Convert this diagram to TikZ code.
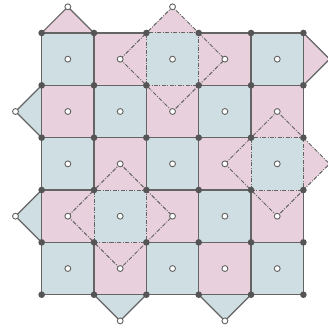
\documentclass[tikz,border=0pt]{standalone}
\usepackage{tikz}
\usetikzlibrary{calc}

\definecolor{tileblue}{RGB}{207,222,226}
\definecolor{tilepink}{RGB}{232,208,220}
\definecolor{edgegray}{RGB}{100,100,100}
\definecolor{dotgray}{RGB}{85,85,85}

\begin{document}
\begin{tikzpicture}[
  gridline/.style={draw=edgegray, line width=0.65pt},
  foldline/.style={draw=edgegray, line width=0.55pt,
    dash pattern=on 2.2pt off 0.8pt on 0.5pt off 0.8pt},
  vertex/.style={circle, fill=dotgray, inner sep=0pt, minimum size=3.6pt},
  centre/.style={circle, draw=edgegray, fill=white, line width=0.5pt,
    inner sep=0pt, minimum size=3.2pt}
]
\useasboundingbox (-0.796,-0.655) rectangle (5.464,5.63);

% --- Dashed tile helper: lower-left corner (x,y) of the centre cell ---
\newcommand{\FoldTile}[2]{%
  % square around the centre cell
  \draw[foldline] (#1,#2) rectangle ++(1,1);
  % diamond through the four neighbouring centres
  \draw[foldline] (#1-0.5,#2+0.5) -- (#1+0.5,#2+1.5)
    -- (#1+1.5,#2+0.5) -- (#1+0.5,#2-0.5) -- cycle;
}

% --- Checkerboard cells ---
\foreach \i in {0,...,4}{
  \foreach \j in {0,...,4}{
    \pgfmathtruncatemacro{\tileodd}{mod(\i+\j,2)}
    \ifnum\tileodd=0
      \fill[tileblue] (\i,\j) rectangle ++(1,1);
    \else
      \fill[tilepink] (\i,\j) rectangle ++(1,1);
    \fi
  }
}

% --- Flaps outside the board ---
\fill[tilepink] (0,5) -- (0.5,5.5) -- (1,5) -- cycle;
\fill[tilepink] (2,5) -- (2.5,5.5) -- (3,5) -- cycle;
\fill[tilepink] (5,4) -- (5.5,4.5) -- (5,5) -- cycle;
\fill[tilepink] (5,2) -- (5.5,2.5) -- (5,3) -- cycle;
\fill[tileblue] (0,3) -- (-0.5,3.5) -- (0,4) -- cycle;
\fill[tileblue] (0,1) -- (-0.5,1.5) -- (0,2) -- cycle;
\fill[tileblue] (1,0) -- (1.5,-0.5) -- (2,0) -- cycle;
\fill[tileblue] (3,0) -- (3.5,-0.5) -- (4,0) -- cycle;

% --- Solid grid edges (the three folded cells are left open) ---
\draw[gridline]
  (0,0) -- (5,0)
  (0,1) -- (1,1) (2,1) -- (5,1)
  (0,2) -- (1,2) (2,2) -- (4,2)
  (0,3) -- (4,3)
  (0,4) -- (2,4) (3,4) -- (5,4)
  (0,5) -- (2,5) (3,5) -- (5,5)
  (0,0) -- (0,5)
  (1,0) -- (1,1) (1,2) -- (1,5)
  (2,0) -- (2,1) (2,2) -- (2,4)
  (3,0) -- (3,4)
  (4,0) -- (4,2) (4,3) -- (4,5)
  (5,0) -- (5,2) (5,3) -- (5,5);

% solid flap edges
\draw[gridline] (0,5) -- (0.5,5.5) -- (1,5);
\draw[gridline] (5,4) -- (5.5,4.5) -- (5,5);
\draw[gridline] (0,3) -- (-0.5,3.5) -- (0,4);
\draw[gridline] (0,1) -- (-0.5,1.5) -- (0,2);
\draw[gridline] (1,0) -- (1.5,-0.5) -- (2,0);
\draw[gridline] (3,0) -- (3.5,-0.5) -- (4,0);

% --- Folded tiles ---
\FoldTile{2}{4}
\FoldTile{1}{1}
\FoldTile{4}{2}

% --- Grid vertices ---
\foreach \i in {0,...,5}{
  \foreach \j in {0,...,5}{
    \node[vertex] (v-\i-\j) at (\i,\j) {};
  }
}

% --- Cell centres and flap tips ---
\foreach \i in {0,...,4}{
  \foreach \j in {0,...,4}{
    \node[centre] (c-\i-\j) at (\i+0.5,\j+0.5) {};
  }
}
\node[centre] (tip-top-a) at (0.5,5.5) {};
\node[centre] (tip-top-b) at (2.5,5.5) {};
\node[centre] (tip-left-a) at (-0.5,3.5) {};
\node[centre] (tip-left-b) at (-0.5,1.5) {};
\node[centre] (tip-bot-a) at (1.5,-0.5) {};
\node[centre] (tip-bot-b) at (3.5,-0.5) {};

\end{tikzpicture}
\end{document}
